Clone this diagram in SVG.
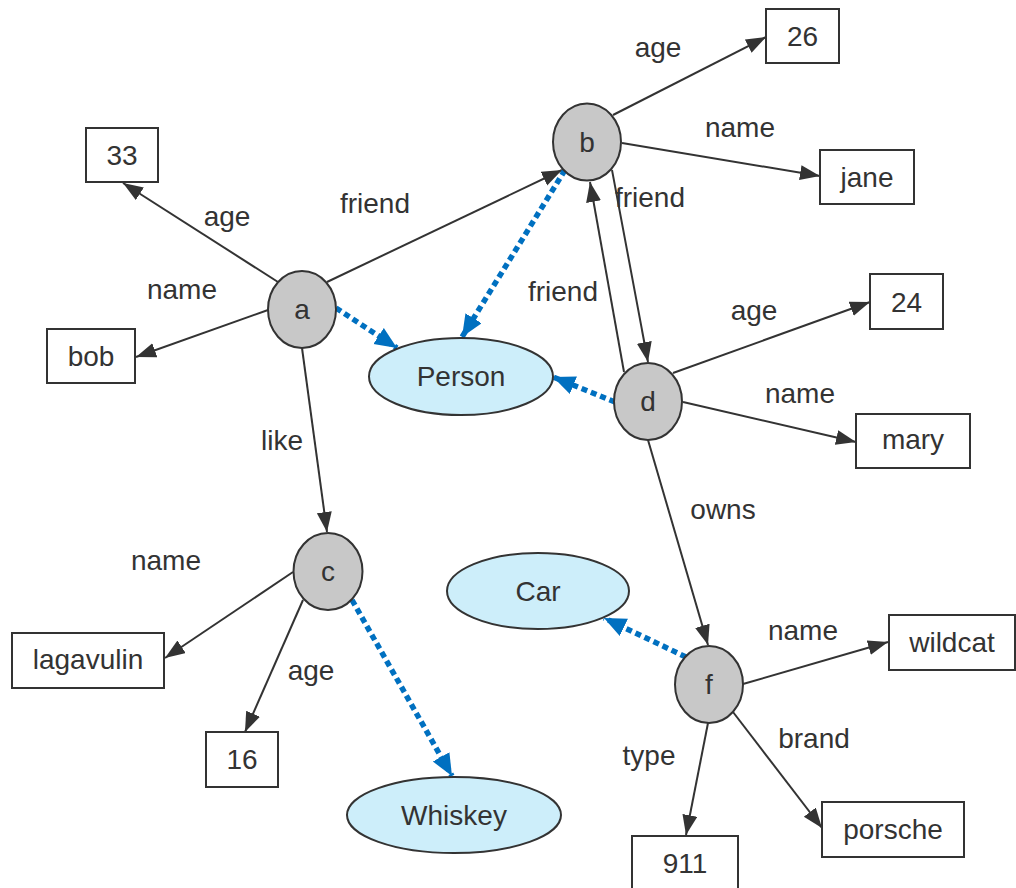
<svg xmlns="http://www.w3.org/2000/svg" width="1016" height="888" viewBox="0 0 1016 888">
  <defs>
    <style>
      text { font-family: "Liberation Sans", Arial, sans-serif; font-size: 28px; fill: #333333; text-anchor: middle; }
      .node { fill: #c8c8c8; stroke: #333333; stroke-width: 2; }
      .cls { fill: #cdeefa; stroke: #333333; stroke-width: 2; }
      .lit { fill: #ffffff; stroke: #333333; stroke-width: 2; }
      .rel { fill: none; stroke: #333333; stroke-width: 2; marker-end: url(#arrow); }
      .typ { fill: none; stroke: #0070c0; stroke-width: 5.5; stroke-dasharray: 6 4; marker-end: url(#arrowBlue); }
    </style>
    <marker id="arrow" markerUnits="userSpaceOnUse" markerWidth="20" markerHeight="16" refX="20" refY="7.5" orient="auto">
      <path d="M0,0 L20,7.5 L0,15 z" fill="#333333"/>
    </marker>
    <marker id="arrowBlue" markerUnits="userSpaceOnUse" markerWidth="22" markerHeight="20" refX="22" refY="9.5" orient="auto">
      <path d="M0,0 L22,9.5 L0,19 z" fill="#0070c0"/>
    </marker>
  </defs>

  <rect width="1016" height="888" fill="#ffffff"/>

  <!-- connectors -->
  <g id="connectors">
    <line class="rel" x1="278" y1="282" x2="123" y2="183"/>
    <line class="rel" x1="268" y1="310" x2="136" y2="357"/>
    <line class="rel" x1="327" y1="282" x2="562" y2="170"/>
    <line class="rel" x1="302" y1="348" x2="327" y2="532"/>
    <line class="rel" x1="613" y1="115" x2="766" y2="37"/>
    <line class="rel" x1="622" y1="143" x2="820" y2="176"/>
    <line class="rel" x1="612" y1="170" x2="648" y2="362"/>
    <line class="rel" x1="624" y1="372" x2="590" y2="182"/>
    <line class="rel" x1="673" y1="373" x2="870" y2="302"/>
    <line class="rel" x1="683" y1="402" x2="856" y2="442"/>
    <line class="rel" x1="648" y1="440" x2="708" y2="645"/>
    <line class="rel" x1="293" y1="572" x2="165" y2="658"/>
    <line class="rel" x1="303" y1="600" x2="245" y2="732"/>
    <line class="rel" x1="743" y1="684" x2="888" y2="642"/>
    <line class="rel" x1="733" y1="712" x2="822" y2="828"/>
    <line class="rel" x1="708" y1="723" x2="686" y2="835"/>

    <line class="typ" x1="336" y1="308" x2="397" y2="348"/>
    <line class="typ" x1="565" y1="170" x2="462" y2="337"/>
    <line class="typ" x1="615" y1="402" x2="553" y2="377"/>
    <line class="typ" x1="352" y1="600" x2="452" y2="776"/>
    <line class="typ" x1="686" y1="657" x2="604" y2="618"/>

    <text x="375" y="213">friend</text>
    <text x="650" y="207">friend</text>
    <text x="563" y="301">friend</text>
    <text x="227" y="226">age</text>
    <text x="182" y="299">name</text>
    <text x="282" y="450">like</text>
    <text x="658" y="57">age</text>
    <text x="740" y="137">name</text>
    <text x="754" y="320">age</text>
    <text x="800" y="403">name</text>
    <text x="723" y="519">owns</text>
    <text x="166" y="570">name</text>
    <text x="311" y="680">age</text>
    <text x="803" y="640">name</text>
    <text x="814" y="748">brand</text>
    <text x="649" y="765">type</text>
  </g>

  <!-- resource nodes -->
  <g id="node-a"><ellipse class="node" cx="302" cy="309.5" rx="34" ry="38.5"/><text x="302" y="319">a</text></g>
  <g id="node-b"><ellipse class="node" cx="587" cy="142" rx="34" ry="38.5"/><text x="587" y="152">b</text></g>
  <g id="node-c"><ellipse class="node" cx="328" cy="571.5" rx="34.5" ry="38.5"/><text x="328" y="581">c</text></g>
  <g id="node-d"><ellipse class="node" cx="648" cy="401.5" rx="34" ry="38.5"/><text x="648" y="411">d</text></g>
  <g id="node-f"><ellipse class="node" cx="709" cy="684.5" rx="34" ry="38.5"/><text x="709" y="694">f</text></g>

  <!-- class nodes -->
  <g id="class-person"><ellipse class="cls" cx="461" cy="376.5" rx="92" ry="38.5"/><text x="461" y="386">Person</text></g>
  <g id="class-car"><ellipse class="cls" cx="538" cy="591" rx="91" ry="38"/><text x="538" y="601">Car</text></g>
  <g id="class-whiskey"><ellipse class="cls" cx="454" cy="815" rx="107" ry="38"/><text x="454" y="825">Whiskey</text></g>

  <!-- literal values -->
  <g id="lit-33"><rect class="lit" x="86" y="128" width="72" height="54"/><text x="122" y="165">33</text></g>
  <g id="lit-bob"><rect class="lit" x="47" y="329" width="88" height="54"/><text x="91" y="366">bob</text></g>
  <g id="lit-26"><rect class="lit" x="766" y="9" width="73" height="54"/><text x="802.5" y="46">26</text></g>
  <g id="lit-jane"><rect class="lit" x="820" y="150" width="94" height="54"/><text x="867" y="187">jane</text></g>
  <g id="lit-24"><rect class="lit" x="870" y="274" width="73" height="55"/><text x="906.5" y="312">24</text></g>
  <g id="lit-mary"><rect class="lit" x="856" y="414" width="114" height="54"/><text x="913" y="449">mary</text></g>
  <g id="lit-lagavulin"><rect class="lit" x="12" y="633" width="152" height="55"/><text x="88" y="669">lagavulin</text></g>
  <g id="lit-16"><rect class="lit" x="206" y="732" width="72" height="55"/><text x="242" y="769">16</text></g>
  <g id="lit-wildcat"><rect class="lit" x="889" y="615" width="126" height="55"/><text x="952" y="652">wildcat</text></g>
  <g id="lit-porsche"><rect class="lit" x="822" y="802" width="142" height="55"/><text x="893" y="839">porsche</text></g>
  <g id="lit-911"><rect class="lit" x="632" y="836" width="106" height="60"/><text x="685" y="873">911</text></g>
</svg>
